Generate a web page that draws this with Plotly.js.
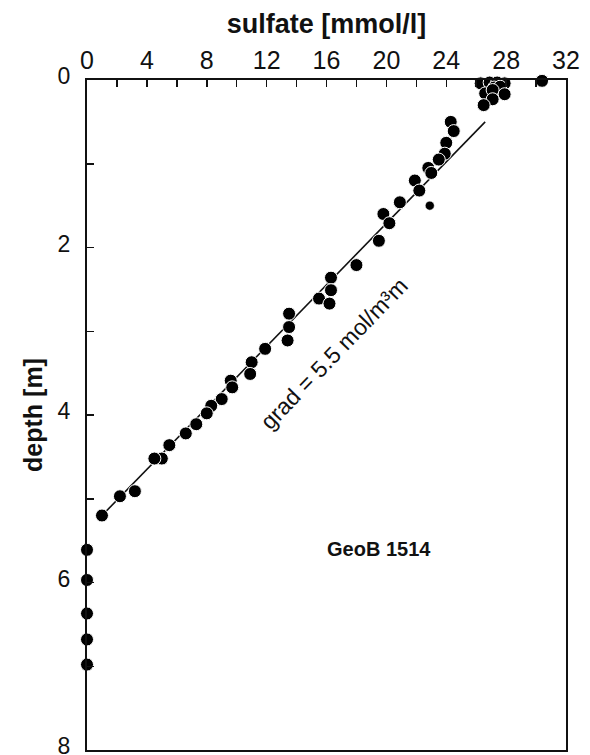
<!DOCTYPE html>
<html>
<head>
<meta charset="utf-8">
<script src="https://cdn.plot.ly/plotly-3.0.1.min.js"></script>
<style>html,body{margin:0;padding:0;background:#fff;}#chart{width:590px;height:755px;}</style>
</head>
<body>
<div id="chart"></div>
<script>
// sulfate concentration [mmol/l]
var sulfate = [30.4, 26.3, 26.9, 27.4, 27.9, 27.2, 27.6, 26.6, 27.1, 27.9, 27.1, 26.5,
  24.3, 24.5, 24.0, 23.9, 23.5, 22.8, 23.0, 21.9, 22.2, 20.9, 19.8, 20.2,
  19.5, 18.0, 16.3, 16.3, 15.5, 16.2, 13.5, 13.5, 13.4, 11.9, 11.0, 10.9,
  9.6, 9.7, 9.0, 8.3, 8.0, 7.3, 6.6, 5.5, 5.0, 4.5, 3.2, 2.2, 1.0,
  0.0, 0.0, 0.0, 0.0, 0.0];
// depth [m]
var depth = [0.01, 0.04, 0.03, 0.03, 0.04, 0.09, 0.08, 0.16, 0.12, 0.17, 0.23, 0.30,
  0.50, 0.61, 0.75, 0.88, 0.95, 1.05, 1.11, 1.20, 1.32, 1.46, 1.60, 1.71,
  1.92, 2.21, 2.36, 2.51, 2.61, 2.67, 2.79, 2.95, 3.11, 3.21, 3.37, 3.51,
  3.59, 3.67, 3.81, 3.89, 3.98, 4.11, 4.22, 4.36, 4.52, 4.52, 4.91, 4.97, 5.20,
  5.61, 5.97, 6.37, 6.68, 6.98];
// single small point
var smallSulfate = [22.9];
var smallDepth = [1.50];
// gradient line end points
var gradSulfate = [1.0, 26.6];
var gradDepth = [5.2, 0.5];
var xTicks = [0, 4, 8, 12, 16, 20, 24, 28, 32];
var yTicks = [0, 2, 4, 6, 8];

var fontFam = '"Liberation Sans", Arial, sans-serif';
var traces = [
  {x: gradSulfate, y: gradDepth, mode: 'lines', line: {color: '#111', width: 1.6}, hoverinfo: 'skip', cliponaxis: false},
  {x: sulfate, y: depth, mode: 'markers', cliponaxis: false,
   marker: {size: 13, color: '#000', line: {color: '#fff', width: 1}}},
  {x: smallSulfate, y: smallDepth, mode: 'markers', cliponaxis: false,
   marker: {size: 9, color: '#000', line: {color: '#fff', width: 0.5}}}
];

var layout = {
  width: 590, height: 755,
  margin: {l: 87, r: 24, t: 80, b: 5},
  paper_bgcolor: '#fff', plot_bgcolor: '#fff',
  showlegend: false,
  font: {family: fontFam, color: '#111'},
  xaxis: {
    side: 'top', range: [0, 32], tickvals: xTicks, ticktext: xTicks.map(String),
    ticks: 'inside', ticklen: 7, tickwidth: 1.5, tickcolor: '#111',
    minor: {dtick: 2, ticks: 'inside', ticklen: 7, tickwidth: 1.5, tickcolor: '#111'},
    showline: true, linecolor: '#111', linewidth: 2, mirror: true,
    showgrid: false, zeroline: false,
    tickfont: {size: 25, family: fontFam, color: '#111'},
    ticklabelstandoff: -1, ticklabeloverflow: 'allow',
    title: {text: '<b>sulfate [mmol/l]</b>', font: {size: 27, family: fontFam, color: '#111'}, standoff: 5}
  },
  yaxis: {
    range: [8, 0], tickvals: yTicks, ticktext: yTicks.map(String),
    ticks: 'inside', ticklen: 7, tickwidth: 1.5, tickcolor: '#111',
    minor: {dtick: 1, ticks: 'inside', ticklen: 7, tickwidth: 1.5, tickcolor: '#111'},
    showline: true, linecolor: '#111', linewidth: 2, mirror: true,
    showgrid: false, zeroline: false,
    tickfont: {size: 23, family: fontFam, color: '#111'},
    ticklabelstandoff: 10, ticklabeloverflow: 'allow', ticklabelshift: 4,
    title: {text: '<b>depth [m]</b>', font: {size: 25, family: fontFam, color: '#111'}, standoff: 8}
  },
  annotations: [
    {x: 16.47, y: 3.27, xref: 'x', yref: 'y', text: 'grad = 5.5 mol/m³m', showarrow: false,
     textangle: -46, font: {size: 23, family: fontFam, color: '#111'}},
    {x: 19.53, y: 5.6, xref: 'x', yref: 'y', text: '<b>GeoB 1514</b>', showarrow: false,
     font: {size: 20, family: fontFam, color: '#111'}}
  ]
};
Plotly.newPlot('chart', traces, layout, {displayModeBar: false, staticPlot: true});
</script>
</body>
</html>
